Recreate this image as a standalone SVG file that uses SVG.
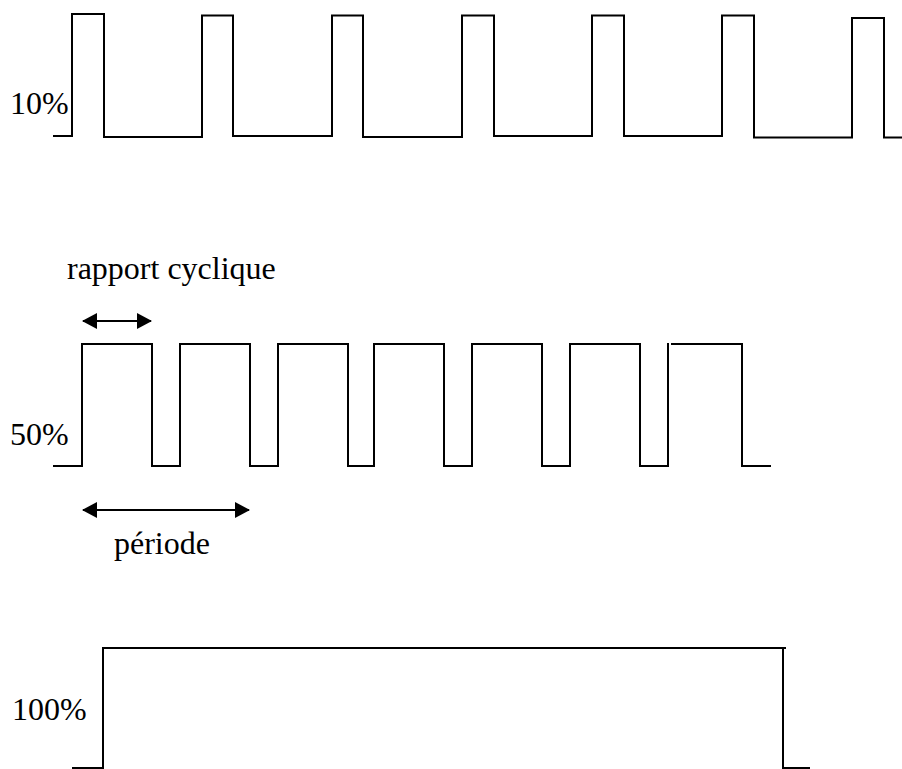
<svg xmlns="http://www.w3.org/2000/svg" width="902" height="769" viewBox="0 0 902 769">
<style>
.w{fill:none;stroke:#000;stroke-width:2;stroke-linejoin:miter;stroke-linecap:butt}
.a{fill:none;stroke:#000;stroke-width:2}
.t{font-family:"Liberation Serif","Times New Roman",serif;font-size:32px;fill:#000}
</style>
<defs>
<marker id="ah" viewBox="0 0 15 16" refX="14" refY="8" markerWidth="15" markerHeight="16" markerUnits="userSpaceOnUse" orient="auto-start-reverse">
<path d="M0,0 L15,8 L0,16 Z" fill="#000"/>
</marker>
</defs>
<rect width="902" height="769" fill="#fff"/>
<g id="wave10">
<text class="t" x="10" y="114">10%</text>
<polyline class="w" points="53,136 72,136 72,14 104,14 104,137 202,137 202,15.5 233,15.5 233,136 332,136 332,15.5 363,15.5 363,137 462,137 462,15.5 494,15.5 494,136 592,136 592,15.5 624,15.5 624,136 722,136 722,15.5 754,15.5 754,137.5 852,137.5 852,18 884,18 884,137.5 902,137.5"/>
</g>
<g id="wave50">
<text class="t" x="67" y="279">rapport cyclique</text>
<text class="t" x="10" y="445">50%</text>
<polyline class="w" points="53,466 82,466 82,344 152,344 152,466 180,466 180,344 250,344 250,466 278,466 278,344 348,344 348,466 374,466 374,344 444,344 444,466 472,466 472,344 542,344 542,466 570,466 570,344 640,344 640,466 668,466 668,343"/>
<polyline class="w" points="671,344 742,344 742,466 771,466"/>
<text class="t" x="114" y="554">période</text>
</g>
<g id="wave100">
<text class="t" x="12" y="720">100%</text>
<polyline class="w" points="72,768 102,768"/>
<polyline class="w" points="103,769 103,648 786,648"/>
<polyline class="w" points="783,648 783,768 810,768"/>
</g>
<g id="connectors">
<line class="a" x1="83" y1="321" x2="151" y2="321" marker-start="url(#ah)" marker-end="url(#ah)"/>
<line class="a" x1="83" y1="510" x2="249" y2="510" marker-start="url(#ah)" marker-end="url(#ah)"/>
</g>
</svg>
